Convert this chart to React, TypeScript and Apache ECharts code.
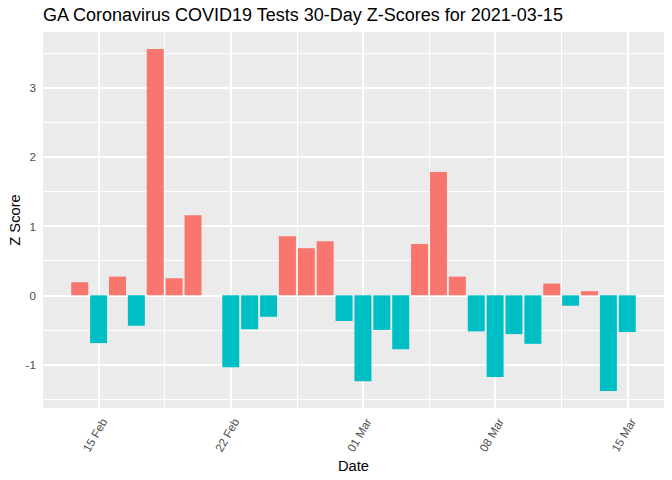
import React, { useEffect, useRef } from "react";
import * as echarts from "echarts";

// Day index 0 = 2021-02-14 ... 29 = 2021-03-15
const startDate = "2021-02-14";
const zScores: (number | null)[] = [
  0.19, -0.69, 0.27, -0.44, 3.555, 0.246, 1.156, null, -1.04, -0.49, -0.31, 0.853, 0.68, 0.78, -0.37,
  -1.24, -0.5, -0.78, 0.74, 1.78, 0.27, -0.52, -1.18, -0.56, -0.7, 0.17, -0.15, 0.06, -1.38, -0.53,
];
const tickDays = [1, 8, 15, 22, 29];
const tickLabels = ["15 Feb", "22 Feb", "01 Mar", "08 Mar", "15 Mar"];
const minorDays = [4.5, 11.5, 18.5, 25.5];
const yTicks = [-1, 0, 1, 2, 3];
const yMinor = [-1.5, -0.5, 0.5, 1.5, 2.5, 3.5];

const FONT = "'Liberation Sans', Arial, sans-serif";

export default function App() {
  const ref = useRef<HTMLDivElement>(null);
  useEffect(() => {
    document.body.style.margin = "0";
    if (!ref.current) return;
    const chart = echarts.init(ref.current, null, { renderer: "svg" });

    const days = zScores.map((_, i) => i);
    const valid = zScores.filter((v) => v !== null) as number[];
    const yLo = Math.min(0, ...valid);
    const yHi = Math.max(0, ...valid);
    const yPad = (yHi - yLo) * 0.05;
    const xLo = days[0] - 0.45;
    const xHi = days[days.length - 1] + 0.45;
    const xPad = (xHi - xLo) * 0.05;
    const xMin = xLo - xPad;
    const xMax = xHi + xPad;
    const yMin = yLo - yPad;
    const yMax = yHi + yPad;

    const gridLeft = 43;
    const gridRight = 8;
    const gridWidth = 672 - gridLeft - gridRight;
    const barWidth = (0.9 * gridWidth) / (xMax - xMin);

    const barData = zScores
      .map((v, i) => [i, v])
      .filter((d) => d[1] !== null);

    const major = { color: "#FFFFFF", width: 1.9, type: "solid" };
    const minor = { color: "#FFFFFF", width: 0.95, type: "solid" };
    const gridLines: any[] = [
      ...tickDays.map((d) => ({ xAxis: d, lineStyle: major })),
      ...minorDays.map((d) => ({ xAxis: d, lineStyle: minor })),
      ...yTicks.map((v) => ({ yAxis: v, lineStyle: major })),
      ...yMinor.map((v) => ({ yAxis: v, lineStyle: minor })),
    ];

    chart.setOption({
      animation: false,
      title: {
        text: "GA Coronavirus COVID19 Tests 30-Day Z-Scores for 2021-03-15",
        left: 43,
        top: 6,
        padding: 0,
        textStyle: { fontFamily: FONT, fontSize: 18, fontWeight: "normal", color: "#000000" },
      },
      grid: {
        left: gridLeft,
        right: gridRight,
        top: 32,
        bottom: 72,
        show: true,
        backgroundColor: "#EBEBEB",
        borderWidth: 0,
        containLabel: false,
        outerBoundsMode: "none",
      },
      xAxis: {
        type: "value",
        min: xMin,
        max: xMax,
        name: "Date",
        nameLocation: "middle",
        nameGap: 50,
        nameMoveOverlap: false,
        nameTextStyle: { fontFamily: FONT, fontSize: 14.7, color: "#000000" },
        axisLine: { show: false },
        splitLine: { show: false },
        axisTick: {
          show: true,
          customValues: tickDays,
          length: 4,
          lineStyle: { color: "#333333", width: 1 },
        },
        axisLabel: {
          customValues: tickDays,
          rotate: 60,
          margin: 8,
          lineHeight: 12,
          fontFamily: FONT,
          fontSize: 11.7,
          color: "#4D4D4D",
          formatter: (v: number) => {
            const i = tickDays.indexOf(Math.round(v));
            return i >= 0 ? "\n" + tickLabels[i] : "";
          },
        },
      },
      yAxis: {
        type: "value",
        min: yMin,
        max: yMax,
        name: "Z Score",
        nameLocation: "middle",
        nameGap: 21,
        nameMoveOverlap: false,
        nameTextStyle: { fontFamily: FONT, fontSize: 14.7, color: "#000000" },
        axisLine: { show: false },
        splitLine: { show: false },
        axisTick: {
          show: true,
          customValues: yTicks,
          length: 4,
          lineStyle: { color: "#333333", width: 1 },
        },
        axisLabel: {
          customValues: yTicks,
          margin: 7,
          fontFamily: FONT,
          fontSize: 11.7,
          color: "#4D4D4D",
          formatter: (v: number) => String(Math.round(v)),
        },
      },
      series: [
        {
          type: "line",
          data: [],
          z: 1,
          silent: true,
          markLine: {
            silent: true,
            z: 1,
            symbol: "none",
            label: { show: false },
            emphasis: { disabled: true },
            data: gridLines,
          },
        },
        {
          type: "bar",
          name: startDate,
          z: 3,
          barWidth,
          data: barData,
          itemStyle: {
            color: (p: any) => (p.value[1] >= 0 ? "#F8766D" : "#00BFC4"),
          },
        },
      ],
    });
    return () => chart.dispose();
  }, []);
  return <div ref={ref} style={{ width: 672, height: 480 }} />;
}
